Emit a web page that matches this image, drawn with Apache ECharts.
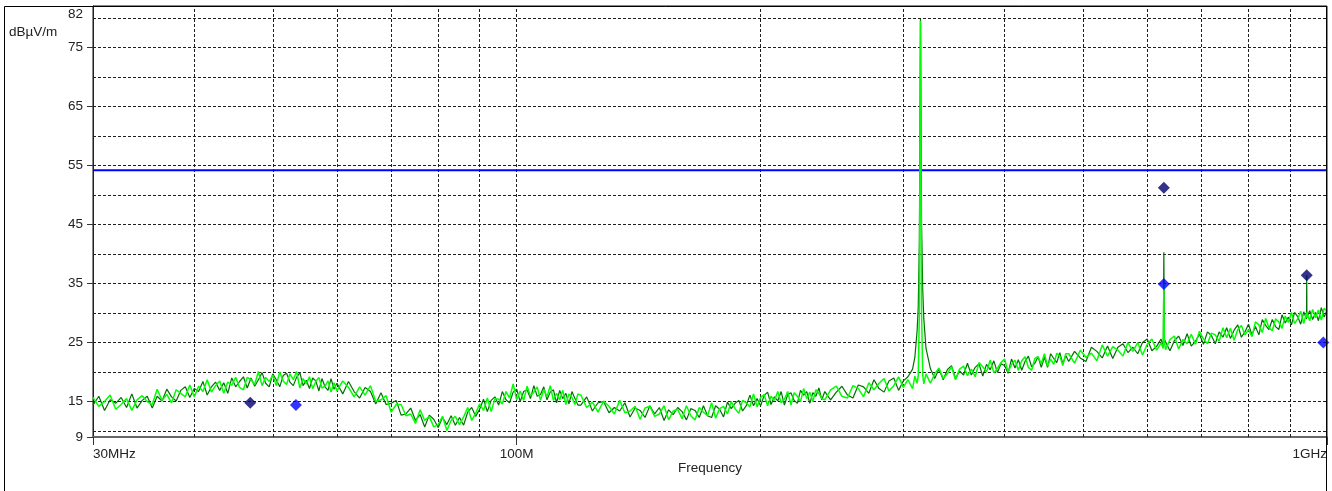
<!DOCTYPE html>
<html>
<head>
<meta charset="utf-8">
<title>Radiated emission scan</title>
<script src="https://cdn.jsdelivr.net/npm/echarts@6/dist/echarts.min.js"></script>
<style>
  html, body { margin: 0; padding: 0; background: #fff; }
  #main { width: 1332px; height: 491px; }
</style>
</head>
<body>
<div id="main"></div>
<script>
// Sweep frequencies (MHz)
const freqMHz = [
  30,30.5,31,31.5,32,32.5,33,33.5,34,34.5,35,35.5,36,36.5,37,37.5,38,38.5,39,39.5,
  40,40.5,41,41.5,42,42.5,43,43.5,44,44.5,45,45.5,46,46.5,47,47.5,48,48.5,49,49.5,
  50,50.5,51,51.5,52,52.5,53,53.5,54,54.5,55,55.5,56,56.5,57,57.5,58,58.5,59,59.5,
  60,61,62,63,64,65,66,67,68,69,70,71,72,73,74,75,76,77,78,79,
  80,81,82,83,84,85,86,87,88,89,90,91,92,93,94,95,96,97,98,99,
  100,101,102,103,104,105,106,107,108,109,110,111,112,113,114,115,116,117,118,119,
  120,122,124,126,128,130,132,134,136,138,140,142,144,146,148,150,152,154,156,158,
  160,162,164,166,168,170,172,174,176,178,180,182,184,186,188,190,192,194,196,198,
  200,202,204,206,208,210,212,214,216,218,220,222,224,226,228,230,232,234,236,238,
  240,244,248,252,256,260,264,268,272,276,280,284,288,292,296,300,304,308,
  310,312,313,314,315,316,317,318,
  320,324,328,332,336,340,344,348,352,356,360,364,368,372,376,380,384,388,392,396,
  400,404,408,412,416,420,424,428,432,436,440,444,448,452,456,460,464,468,472,476,
  480,488,496,504,512,520,528,536,544,552,560,568,576,584,592,600,608,616,624,
  628,629,630,
  632,640,648,656,664,672,680,688,696,704,712,720,728,736,744,752,760,768,776,784,
  792,800,808,816,824,832,840,848,856,864,872,880,888,896,904,912,920,928,936,
  943.5,944,944.5,
  952,960,968,976,984,992,1000
];

// Light green trace (dBµV/m)
const traceLight = [
  15.7,14.2,15.0,16.1,13.7,14.5,15.5,13.5,15.3,16.0,15.0,14.5,17.1,15.2,16.2,14.8,17.0,16.4,15.8,17.8,
  15.8,17.6,16.7,18.7,16.6,17.7,18.5,16.4,18.3,17.8,19.1,17.4,17.0,19.1,18.7,17.9,20.1,17.7,19.1,18.4,
  19.5,17.7,20.0,18.5,17.9,19.7,18.7,20.1,17.3,18.9,18.0,19.2,17.2,18.4,19.1,17.3,17.6,18.5,16.6,18.2,
  16.8,18.5,17.4,15.8,17.5,16.1,17.7,15.0,15.3,16.0,13.2,14.5,14.5,12.6,12.9,11.3,13.6,11.8,12.5,10.7,
  11.1,12.5,10.1,11.8,12.5,11.1,12.4,14.0,11.8,13.0,14.6,13.5,15.6,13.3,15.5,15.4,14.6,16.7,15.6,18.0,
  15.3,16.8,15.2,17.6,16.0,16.6,17.5,15.2,17.1,15.8,17.7,15.2,16.4,15.3,16.9,14.5,16.3,15.7,14.5,16.3,
  16.1,14.0,14.9,13.2,15.1,14.2,12.9,15.2,13.1,13.4,14.2,12.0,13.9,14.2,12.5,12.9,14.3,11.9,13.4,13.7,
  12.1,14.3,12.6,11.9,14.0,13.2,12.6,14.8,12.2,13.8,14.2,12.9,15.0,13.8,13.0,15.2,14.8,14.1,16.3,14.1,
  15.7,16.2,14.3,15.9,15.2,16.7,14.8,15.4,16.7,14.4,16.5,15.9,15.0,17.2,15.5,16.6,15.0,17.0,16.4,15.5,
  15.3,17.0,17.6,15.9,15.6,17.7,17.2,15.8,18.2,17.0,18.1,18.9,16.8,17.7,19.2,17.4,18.7,17.2,
  19.3,18.1,19.4,30.0,79.5,30.0,19.5,18.0,
  19.7,18.1,19.7,20.7,18.9,19.7,20.9,18.7,20.5,21.0,19.4,20.5,19.2,21.6,20.9,20.0,22.0,19.9,20.6,21.6,
  22.2,20.0,21.3,22.0,20.3,21.9,22.6,20.8,20.3,22.3,22.6,21.4,23.1,21.0,22.2,21.3,23.2,22.7,21.1,23.1,
  23.1,21.5,23.7,22.5,23.2,21.9,24.6,22.7,24.3,23.7,22.7,25.0,23.5,25.0,22.9,24.7,25.6,23.7,24.9,
  24.0,35.0,25.2,
  23.8,25.5,26.1,23.9,25.5,24.8,26.4,24.7,26.9,25.6,24.8,26.6,26.3,25.2,27.5,25.8,27.4,25.4,27.2,27.9,
  26.3,27.2,26.0,28.5,28.0,26.7,29.1,27.5,27.0,29.0,28.5,27.4,29.5,28.4,30.1,28.2,29.0,30.3,28.2,
  30.1,29.2,30.0,
  28.7,30.6,29.2,30.5,28.8,30.8,30.3
];

// Dark green trace (dBµV/m)
const traceDark = [
  14.4,15.9,13.5,15.3,14.7,15.7,14.0,16.3,13.9,15.2,15.9,13.9,15.9,15.1,17.1,15.8,15.1,16.9,17.5,15.7,
  17.2,16.7,18.4,16.1,17.5,18.3,16.9,18.2,16.4,19.0,17.5,18.4,19.2,17.3,19.0,17.6,18.7,19.9,18.1,17.5,
  19.7,18.7,17.5,19.4,19.8,18.3,17.7,19.1,19.9,17.7,18.6,17.2,19.0,18.5,16.8,18.9,17.5,16.9,18.9,17.1,
  18.1,16.3,18.4,16.7,15.6,17.4,16.7,14.6,16.5,14.5,14.7,15.2,12.7,12.9,13.9,11.8,12.8,10.7,12.7,12.0,
  10.6,12.3,11.1,12.6,11.0,12.3,11.0,13.2,14.0,12.5,13.7,15.4,13.3,15.2,15.8,14.4,16.7,15.3,14.8,16.6,
  17.1,15.0,16.7,17.0,15.5,17.7,15.9,16.2,17.5,15.3,16.6,17.0,14.8,16.9,15.5,16.4,14.6,16.7,15.5,14.4,
  14.4,15.8,13.4,14.8,15.0,13.1,14.0,13.4,14.8,12.4,13.9,13.5,12.3,14.3,12.9,14.0,11.8,13.6,12.8,14.0,
  13.3,11.9,13.8,13.5,12.3,14.3,12.6,12.3,14.3,13.7,12.4,14.9,13.8,14.7,15.2,13.4,14.3,16.1,14.3,15.5,
  14.3,16.0,16.6,14.5,15.8,15.1,16.7,14.4,16.2,16.5,15.2,14.7,16.9,16.1,16.7,14.7,16.5,15.9,17.3,15.3,
  16.7,15.3,16.6,17.6,16.1,15.6,17.8,17.5,16.4,18.7,17.2,16.6,18.5,19.0,16.9,18.5,19.2,20.5,
  22.5,27.0,31.0,42.0,79.8,45.0,34.0,29.0,
  24.0,20.6,18.9,20.5,18.7,20.4,21.1,18.9,20.2,19.5,21.5,19.5,20.8,21.4,19.3,21.3,20.4,21.9,19.9,21.4,
  21.1,19.8,22.2,20.7,22.1,20.3,21.8,22.7,20.9,21.5,22.6,20.8,22.5,20.8,23.1,22.3,21.6,23.3,21.4,22.8,
  21.8,23.5,22.4,21.8,24.2,23.5,22.4,24.4,22.3,24.2,24.8,23.3,24.2,23.1,25.0,25.6,23.6,24.3,25.6,
  24.3,40.3,25.5,
  25.2,23.6,25.3,26.1,24.5,26.5,24.4,25.2,26.4,24.7,26.8,26.2,24.8,26.8,25.9,27.5,25.7,27.1,28.0,25.9,
  26.8,28.1,26.3,27.7,26.3,28.9,27.9,27.2,28.9,27.7,27.2,29.7,28.3,29.3,28.0,30.1,29.4,28.1,30.2,
  29.0,36.4,29.3,
  30.4,28.9,30.1,28.7,30.9,29.3,30.5
];

// Final measurement points: [MHz, dBµV/m]
const finalNavy = [[46.9, 14.8], [629, 51.2], [944, 36.4]];
const finalBlue = [[53.4, 14.4], [629, 34.9], [989.5, 25.0]];

// Limit line
const limitLevel = 54.2;
const freqRange = [30, 1000];

// Axis ticks and grid
const xTickValues = [30, 100, 1000];
const xTickLabels = ['30MHz', '100M', '1GHz'];
const xGridValues = [40, 50, 60, 70, 80, 90, 100, 200, 300, 400, 500, 600, 700, 800, 900];
const yRange = [9, 82];
const yTickValues = [9, 15, 25, 35, 45, 55, 65, 75, 82];
const yGridValues = [10, 15, 20, 25, 30, 35, 40, 45, 50, 55, 60, 65, 70, 75, 80];

if (freqMHz.length !== traceLight.length || freqMHz.length !== traceDark.length) {
  throw new Error('trace length mismatch: ' + freqMHz.length + ' / ' + traceLight.length + ' / ' + traceDark.length);
}

const FONT = '"Liberation Sans", Arial, Helvetica, sans-serif';
const FS = 13.5;
const TXT = '#222';

const pairs = (vals) => freqMHz.map((f, i) => [f, vals[i]]);

const gridLineStyle = { color: '#1e1e1e', width: 1, type: [3, 2] };

const chart = echarts.init(document.getElementById('main'), null, { renderer: 'canvas' });

chart.setOption({
  animation: false,
  backgroundColor: '#fff',
  grid: {
    left: 93, right: 5, top: 6, bottom: 54,
    show: true, borderColor: '#111', borderWidth: 1, backgroundColor: '#fff'
  },
  xAxis: {
    type: 'log',
    logBase: 10,
    min: freqRange[0],
    max: freqRange[1],
    name: 'Frequency',
    nameLocation: 'middle',
    nameGap: 24,
    nameMoveOverlap: false,
    nameTextStyle: { fontFamily: FONT, fontSize: FS, color: TXT },
    axisLine: { show: true, lineStyle: { color: '#666', width: 2 } },
    axisTick: { show: true, length: 8, lineStyle: { color: '#333', width: 1 } },
    minorTick: { show: false },
    splitLine: { show: false },
    axisLabel: {
      show: true,
      margin: 10,
      fontFamily: FONT,
      fontSize: FS,
      color: TXT,
      showMinLabel: true,
      showMaxLabel: true,
      alignMinLabel: 'left',
      alignMaxLabel: 'right',
      formatter: function (v) {
        const i = xTickValues.findIndex(t => Math.abs(t - v) / t < 1e-4);
        return i >= 0 ? xTickLabels[i] : '';
      }
    }
  },
  yAxis: {
    type: 'value',
    min: yRange[0],
    max: yRange[1],
    axisLine: { show: true, lineStyle: { color: '#222', width: 1 } },
    axisTick: { show: true, length: 6, customValues: yTickValues, lineStyle: { color: '#333' } },
    splitLine: { show: false },
    axisLabel: {
      customValues: yTickValues,
      margin: 10,
      fontFamily: FONT,
      fontSize: FS,
      color: TXT,
      formatter: function (v) {
        return v === yRange[1] ? '{top|' + v + '}' : String(v);
      },
      rich: {
        top: { fontFamily: FONT, fontSize: FS, color: TXT, padding: [17, 0, 0, 0] }
      }
    }
  },
  graphic: [
    {
      type: 'rect',
      silent: true,
      z: 100,
      shape: { x: 4.5, y: 6.5, width: 1322, height: 495 },
      style: { fill: null, stroke: '#000', lineWidth: 1 }
    },
    {
      type: 'text',
      x: 9,
      y: 25,
      style: { text: 'dBµV/m', font: FS + 'px ' + FONT, fill: TXT, verticalAlign: 'top' }
    }
  ],
  series: [
    {
      name: 'Limit',
      type: 'line',
      z: 3,
      silent: true,
      symbol: 'none',
      data: [[freqRange[0], limitLevel], [freqRange[1], limitLevel]],
      lineStyle: { color: '#0000ff', width: 2 },
      markLine: {
        z: 1,
        silent: true,
        animation: false,
        symbol: ['none', 'none'],
        label: { show: false },
        lineStyle: gridLineStyle,
        emphasis: { disabled: true },
        data: xGridValues.map(v => ({ xAxis: v }))
          .concat(yGridValues.map(v => ({ yAxis: v })))
      }
    },
    {
      name: 'Dark trace',
      type: 'line',
      z: 4,
      silent: true,
      symbol: 'none',
      data: pairs(traceDark),
      lineStyle: { color: '#006f00', width: 1.2 }
    },
    {
      name: 'Light trace',
      type: 'line',
      z: 5,
      silent: true,
      symbol: 'none',
      data: pairs(traceLight),
      lineStyle: { color: '#00ff00', width: 1.5 }
    },
    {
      name: 'Final navy',
      type: 'scatter',
      z: 6,
      silent: true,
      symbol: 'diamond',
      symbolSize: [12, 12],
      itemStyle: { color: '#00006e' },
      data: finalNavy
    },
    {
      name: 'Final blue',
      type: 'scatter',
      z: 6,
      silent: true,
      symbol: 'diamond',
      symbolSize: [12, 12],
      itemStyle: { color: '#0000ff' },
      data: finalBlue
    }
  ]
});
</script>
</body>
</html>
